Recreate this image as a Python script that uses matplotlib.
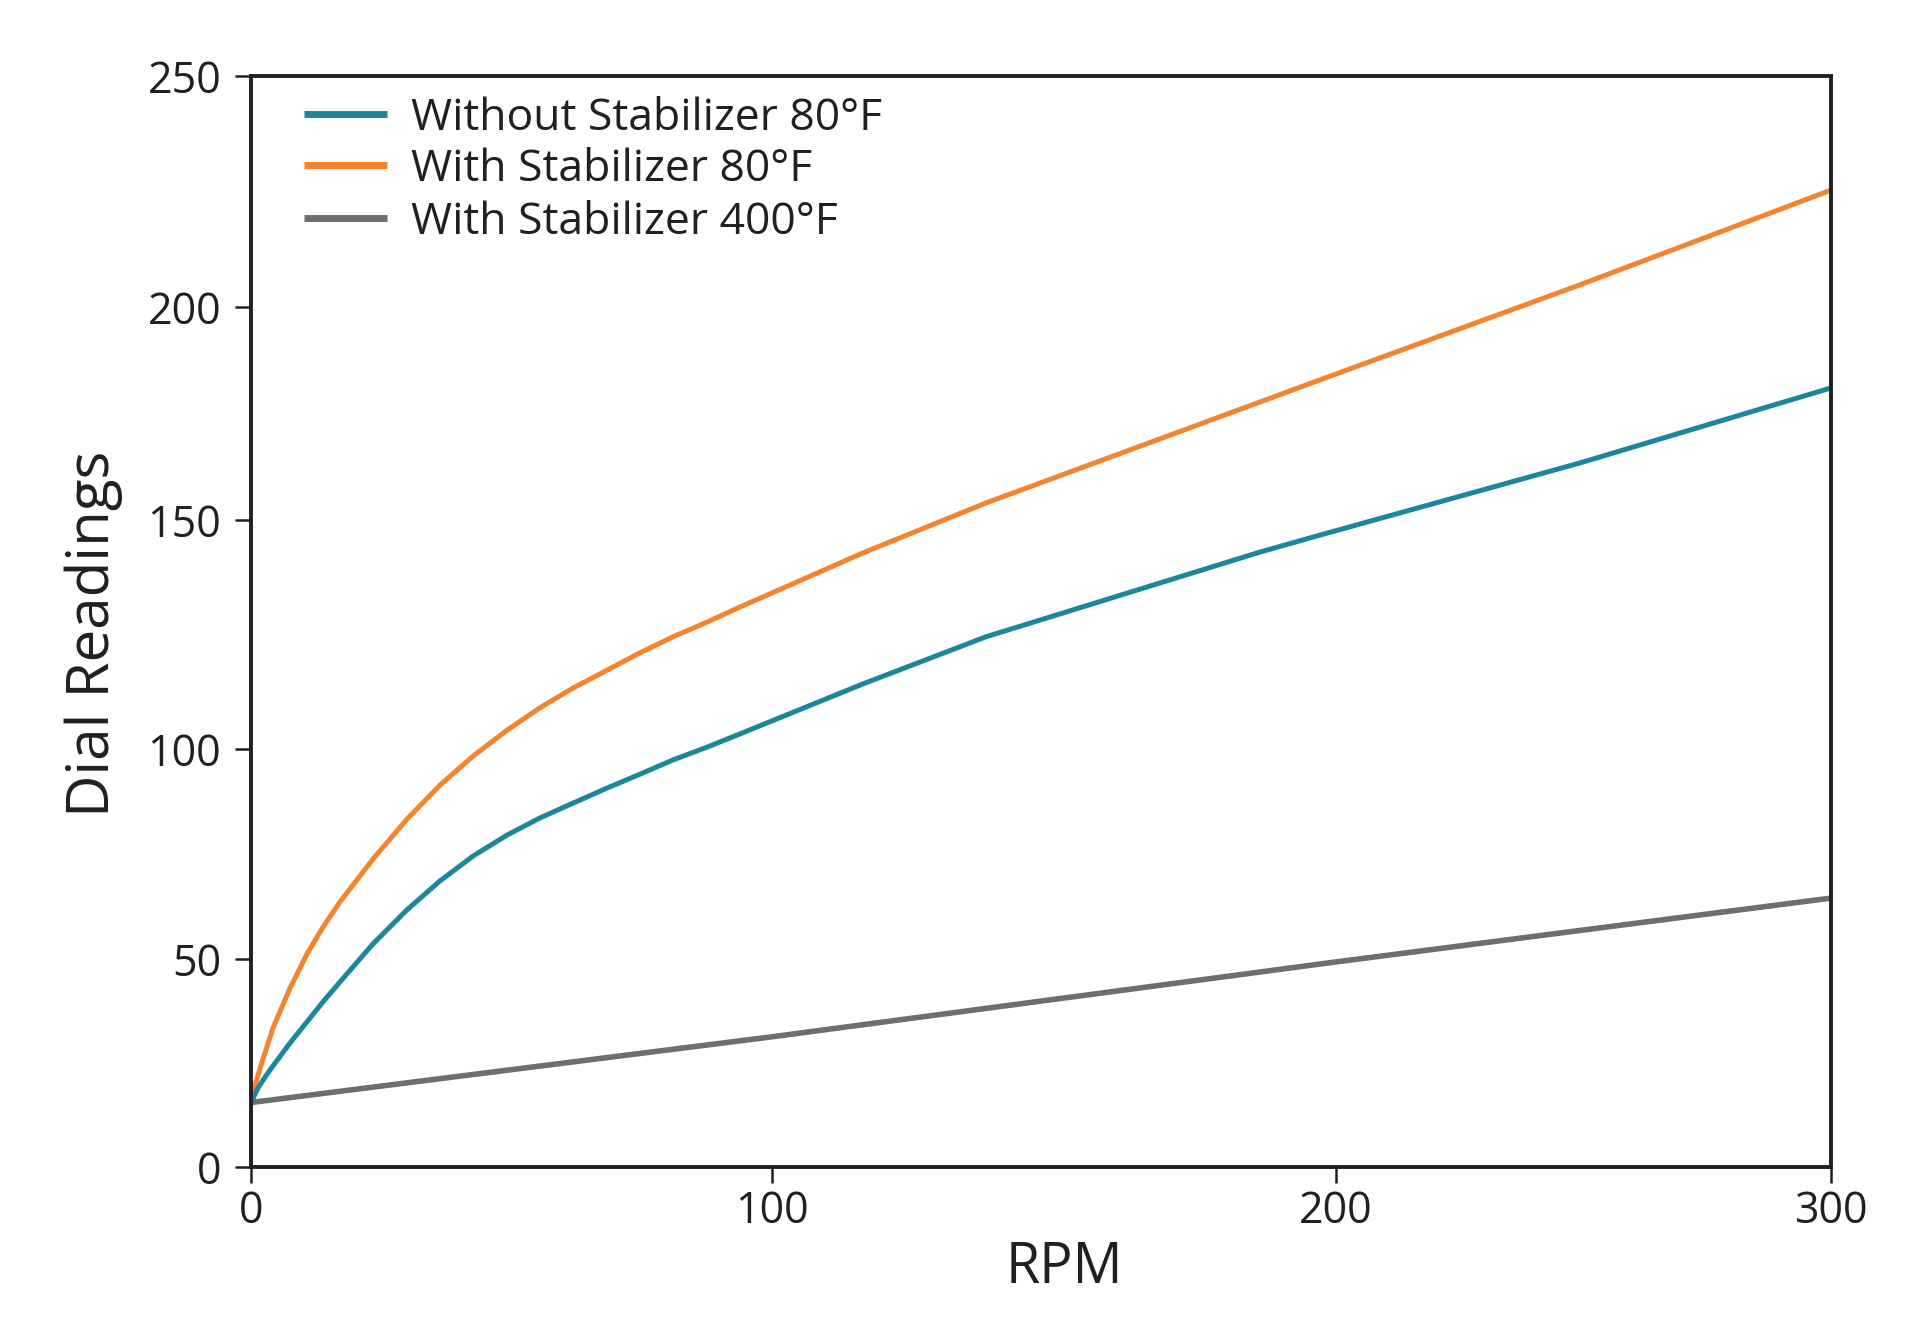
import numpy as np
import matplotlib
matplotlib.use("Agg")
import matplotlib.pyplot as plt

plt.rcParams['font.family'] = ['Open Sans', 'DejaVu Sans']

# data
rpm_without_80 = [0, 1.34, 2.69, 4.22, 7.49, 10.75, 13.82, 17.08, 23.42, 29.94, 36.28, 42.61, 49.14,
                  55.47, 61.80, 68.33, 74.66, 81.00, 87.52, 93.86, 116.1, 137.94, 186.52, 197.16,
                  249.29, 300]
dial_without_80 = [15.5, 19.0, 21.6, 24.3, 29.8, 34.9, 39.7, 44.5, 53.6, 61.7, 68.6, 74.5, 79.5,
                   83.6, 87.1, 90.7, 94.0, 97.4, 100.4, 103.3, 114.2, 124.5, 143.0, 146.7,
                   163.4, 181.0]

rpm_with_80 = [0, 0.96, 2.11, 4.22, 7.49, 10.75, 13.82, 17.08, 23.42, 29.94, 36.28, 42.61, 49.14,
               55.47, 61.80, 68.33, 74.66, 81.00, 87.52, 93.86, 116.1, 137.94, 186.52, 197.16,
               249.29, 300]
dial_with_80 = [15.5, 20.4, 25.2, 33.4, 43.0, 51.2, 57.6, 63.6, 73.8, 83.3, 91.4, 98.3, 104.1,
                109.0, 113.3, 117.2, 121.0, 124.5, 127.7, 131.0, 142.8, 154.0, 177.7, 182.9,
                204.8, 225.3]

rpm_with_400 = [0, 100, 200, 300]
dial_with_400 = [15.5, 31.3, 49.3, 64.5]

labels = ['Without Stabilizer 80°F', 'With Stabilizer 80°F', 'With Stabilizer 400°F']
colors = ['#1b879c', '#f5842f', '#6e6e6e']

x_ticks = [0, 100, 200, 300]
y_ticks = [0, 50, 100, 150, 200, 250]

# the original drawing has uneven tick spacing, kept with a piecewise scale
x_gaps = [521, 564, 495]
y_gaps = [208, 210, 229, 213, 231]


def piecewise_scale(ticks, gaps):
    vals = np.asarray(ticks, float)
    pos = np.concatenate([[0], np.cumsum(gaps)]) / float(np.sum(gaps))

    def interp(v, a, b):
        v = np.asarray(v, float)
        out = np.interp(v, a, b)
        lo_slope = (b[1] - b[0]) / (a[1] - a[0])
        hi_slope = (b[-1] - b[-2]) / (a[-1] - a[-2])
        out = np.where(v < a[0], b[0] + (v - a[0]) * lo_slope, out)
        out = np.where(v > a[-1], b[-1] + (v - a[-1]) * hi_slope, out)
        return out

    return (lambda v: interp(v, vals, pos)), (lambda p: interp(p, pos, vals))


text_color = '#231f20'
fig = plt.figure(figsize=(19.2, 13.35), dpi=100)
ax = fig.add_axes([251 / 1920, 168 / 1335, 1580 / 1920, 1091 / 1335])

ax.set_xscale('function', functions=piecewise_scale(x_ticks, x_gaps))
ax.set_yscale('function', functions=piecewise_scale(y_ticks, y_gaps))

ax.plot(rpm_with_400, dial_with_400, color=colors[2], lw=4.0, solid_capstyle='butt')
ax.plot(rpm_with_80, dial_with_80, color=colors[1], lw=3.6, solid_capstyle='butt')
ax.plot(rpm_without_80, dial_without_80, color=colors[0], lw=3.6, solid_capstyle='butt')

ax.set_xlim(0, 300)
ax.set_ylim(0, 250)
ax.set_xticks(x_ticks)
ax.set_yticks(y_ticks)
ax.set_xticklabels([str(t) for t in x_ticks])
ax.set_yticklabels([str(t) for t in y_ticks])
ax.minorticks_off()

for s in ax.spines.values():
    s.set_linewidth(2.8)
    s.set_color(text_color)

ax.tick_params(axis='both', direction='out', length=11.5, width=1.8, color=text_color,
               labelsize=31, labelcolor=text_color)
ax.tick_params(axis='y', pad=10)
ax.tick_params(axis='x', pad=5)

ax.set_xlabel('RPM', fontsize=40, color=text_color)
ax.set_ylabel('Dial Readings', fontsize=42, color=text_color)
ax.xaxis.set_label_coords(0.515, -0.067)
ax.yaxis.set_label_coords(-0.081, 0.489)

# legend drawn by hand to get the tight row spacing of the original
row_y = [0.9652, 0.9184, 0.8698]
for y, c, lab in zip(row_y, colors, labels):
    ax.plot([0.0335, 0.0861], [y, y], color=c, lw=5, transform=ax.transAxes,
            solid_capstyle='butt', clip_on=False)
    ax.text(0.1013, y - 0.0145, lab, transform=ax.transAxes, fontsize=32,
            color=text_color, va='baseline', ha='left')

fig.savefig('out.png', dpi=100, facecolor='white')
